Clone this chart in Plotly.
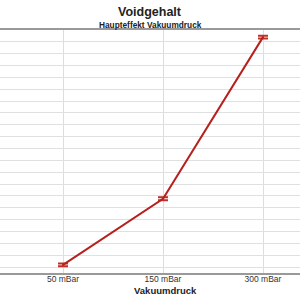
import plotly.graph_objects as go

categories = ["50 mBar", "150 mBar", "300 mBar"]
values = [0.19, 5.76, 19.4]
err = [0.12, 0.12, 0.12]

fig = go.Figure()
fig.add_trace(go.Scatter(
    x=categories, y=values, mode="lines",
    line=dict(color="#b5221e", width=2),
    error_y=dict(type="data", array=err, arrayminus=err, color="#c0302a", thickness=2, width=5),
    showlegend=False,
))

H = 300
ph = H - 30 - 27


def py(pix):
    # pixel y from top -> paper coordinate
    return (H - 27 - pix) / ph


fig.update_layout(
    width=300, height=300,
    margin=dict(l=0, r=0, t=30, b=27),
    paper_bgcolor="white", plot_bgcolor="white",
    font=dict(family="Liberation Sans, Arial, sans-serif", color="#333"),
    xaxis=dict(
        type="category", range=[-0.63, 2.37],
        showgrid=True, gridcolor="#dddddd", gridwidth=1,
        showline=True, linecolor="#999999", linewidth=1.5, mirror=True,
        ticks="", tickfont=dict(size=8.5, color="#333"), ticklabelstandoff=-3,
        zeroline=False,
    ),
    yaxis=dict(
        range=[-0.5, 20], dtick=1, tick0=0,
        showgrid=True, gridcolor="#e0e0e0", gridwidth=1,
        showticklabels=False, zeroline=False, showline=False,
    ),
    annotations=[
        dict(text="<b>Voidgehalt</b>", x=0.5, y=py(12), xref="paper", yref="paper",
             yanchor="middle", showarrow=False, font=dict(size=12.5, color="#222")),
        dict(text="<b>Haupteffekt Vakuumdruck</b>", x=0.5, y=py(24.5), xref="paper", yref="paper",
             yanchor="middle", showarrow=False, font=dict(size=8.3, color="#222")),
        dict(text="<b>Vakuumdruck</b>", x=0.55, y=py(290.5), xref="paper", yref="paper",
             yanchor="middle", showarrow=False, font=dict(size=9.5, color="#222")),
    ],
)

fig.write_html("out.html")
